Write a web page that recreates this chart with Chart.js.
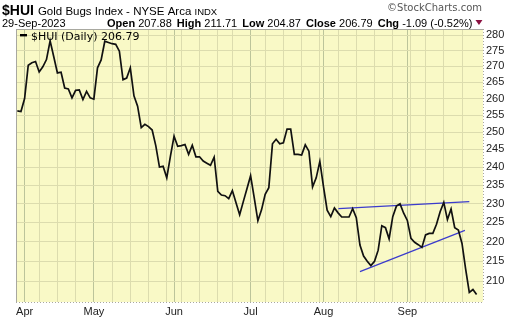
<!DOCTYPE html>
<html>
<head>
<meta charset="utf-8">
<script src="https://cdn.jsdelivr.net/npm/chart.js@4"></script>
<style>
  html, body { margin: 0; padding: 0; background: #fff; }
  canvas { display: block; }
</style>
</head>
<body>
<canvas id="huiChart" width="520" height="318"></canvas>
<script>
// trading days shown (2023, MM-DD)
const dates = [
  '03-30','03-31',
  '04-03','04-04','04-05','04-06','04-10','04-11','04-12','04-13','04-14','04-17','04-18','04-19','04-20','04-21','04-24','04-25','04-26','04-27','04-28',
  '05-01','05-02','05-03','05-04','05-05','05-08','05-09','05-10','05-11','05-12','05-15','05-16','05-17','05-18','05-19','05-22','05-23','05-24','05-25','05-26','05-30','05-31',
  '06-01','06-02','06-05','06-06','06-07','06-08','06-09','06-12','06-13','06-14','06-15','06-16','06-20','06-21','06-22','06-23','06-26','06-27','06-28','06-29','06-30',
  '07-03','07-05','07-06','07-07','07-10','07-11','07-12','07-13','07-14','07-17','07-18','07-19','07-20','07-21','07-24','07-25','07-26','07-27','07-28','07-31',
  '08-01','08-02','08-03','08-04','08-07','08-08','08-09','08-10','08-11','08-14','08-15','08-16','08-17','08-18','08-21','08-22','08-23','08-24','08-25','08-28','08-29','08-30','08-31',
  '09-01','09-05','09-06','09-07','09-08','09-11','09-12','09-13','09-14','09-15','09-18','09-19','09-20','09-21','09-22','09-25','09-26','09-27','09-28','09-29'
];

// daily closes of $HUI
const closes = [
  256.3, 256.1,
  260.0, 270.3, 271.1, 271.5, 268.2, 269.8, 272.1, 278.1, 273.0, 267.9, 268.1, 263.2, 262.9, 260.2, 262.5, 262.6, 259.7, 262.2, 260.2,
  259.8, 269.5, 272.0, 278.0, 277.6, 277.2, 277.0, 274.8, 265.8, 266.3, 269.5, 260.8, 257.7, 251.3, 252.3, 251.6, 250.6, 246.0, 240.0, 240.2, 237.0, 243.0,
  248.8, 245.9, 246.1, 246.4, 243.6, 246.2, 242.9, 242.9, 241.7, 241.1, 240.5, 242.8, 233.3, 232.3, 232.1, 231.3, 233.5, 230.2, 227.0, 230.5, 234.0,
  237.6, 231.5, 225.4, 228.3, 232.5, 234.3, 246.6, 247.9, 246.6, 246.9, 250.9, 250.9, 243.6, 243.6, 243.4, 246.3, 244.5, 234.5, 237.0, 241.6,
  234.6, 228.2, 226.5, 228.8, 227.5, 226.4, 226.4, 226.4, 228.6, 226.2, 219.1, 216.3, 215.0, 213.9, 215.0, 217.8, 224.1, 223.6, 220.7, 226.5, 229.3, 229.9, 227.4,
  225.5, 220.8, 219.8, 219.2, 218.5, 221.7, 222.1, 222.1, 224.5, 227.8, 230.3, 225.7, 228.5, 223.6, 223.0, 219.5, 213.0, 207.3, 208.0, 206.79
];

// drawn trendlines (day index, value)
const upperTrendX = [88.1, 124.0];
const upperTrendY = [228.6, 230.5];
const lowerTrendX = [94.0, 122.8];
const lowerTrendY = [212.4, 222.9];

const monthLabels = ['Apr', 'May', 'Jun', 'Jul', 'Aug', 'Sep'];
const yTicks = [210, 215, 220, 225, 230, 235, 240, 245, 250, 255, 260, 265, 270, 275, 280];

const dayOf = s => new Date(2023, +s.slice(0, 2) - 1, +s.slice(3, 5));

// month starts get a label, week starts get a grid line
const monthStart = {};
const gridIdx = [];
let m = 0;
for (let i = 1; i < dates.length; i++) {
  const isMonth = dates[i].slice(0, 2) !== dates[i - 1].slice(0, 2);
  const isWeek = dayOf(dates[i]).getDay() < dayOf(dates[i - 1]).getDay();
  if (isMonth) monthStart[i] = monthLabels[m++];
  if (isMonth || isWeek) gridIdx.push(i);
}

const FONT = '"Liberation Sans", Arial, sans-serif';

const paper = {
  id: 'paper',
  beforeDraw(chart) {
    const { ctx, chartArea: a } = chart;
    ctx.save();
    ctx.fillStyle = '#ffffff';
    ctx.fillRect(0, 0, chart.width, chart.height);
    ctx.fillStyle = '#f9f9c6';
    ctx.fillRect(a.left, a.top, a.right - a.left, a.bottom - a.top);
    ctx.restore();
  },
  afterDraw(chart) {
    const { ctx, chartArea: a } = chart;
    ctx.save();

    // frame
    ctx.strokeStyle = '#a8a8a0';
    ctx.lineWidth = 1;
    ctx.beginPath();
    ctx.moveTo(a.left + 0.5, a.top);
    ctx.lineTo(a.left + 0.5, a.bottom);
    ctx.moveTo(a.left, a.top + 0.5);
    ctx.lineTo(a.right, a.top + 0.5);
    ctx.stroke();
    ctx.setLineDash([1, 2]);
    ctx.beginPath();
    ctx.moveTo(a.left, a.bottom + 0.5);
    ctx.lineTo(a.right, a.bottom + 0.5);
    ctx.moveTo(a.right + 0.5, a.top);
    ctx.lineTo(a.right + 0.5, a.bottom);
    ctx.stroke();
    ctx.setLineDash([]);

    // title row
    ctx.fillStyle = '#000';
    ctx.textBaseline = 'alphabetic';
    ctx.font = 'bold 14px ' + FONT;
    ctx.fillText('$HUI', 2, 15);
    let x = 2 + ctx.measureText('$HUI').width + 4;
    ctx.font = '11.5px ' + FONT;
    ctx.fillText('Gold Bugs Index - NYSE Arca', x, 15);
    x += ctx.measureText('Gold Bugs Index - NYSE Arca ').width;
    ctx.font = '9.5px ' + FONT;
    ctx.fillText('INDX', x, 15);

    ctx.fillStyle = '#555';
    ctx.font = '10px "DejaVu Sans", Verdana, sans-serif';
    ctx.textAlign = 'right';
    ctx.fillText('\u00A9StockCharts.com', 482, 11);
    ctx.textAlign = 'left';

    // quote row
    ctx.fillStyle = '#000';
    ctx.font = '11px ' + FONT;
    ctx.fillText('29-Sep-2023', 2, 27);
    const parts = [
      ['Open', true], [' 207.88 ', false], ['High', true], [' 211.71 ', false],
      ['Low', true], [' 204.87 ', false], ['Close', true], [' 206.79 ', false],
      ['Chg', true], [' -1.09 (-0.52%)', false]
    ];
    x = 107;
    parts.forEach(([t, b], k) => {
      ctx.font = (b ? 'bold ' : '') + '11px ' + FONT;
      ctx.fillText(t, x, 27);
      x += ctx.measureText(t).width + (!b && k < parts.length - 1 ? 2 : 0);
    });
    ctx.fillStyle = '#8a1040';
    ctx.beginPath();
    ctx.moveTo(x + 3, 20);
    ctx.lineTo(x + 10, 20);
    ctx.lineTo(x + 6.5, 25);
    ctx.closePath();
    ctx.fill();

    // legend
    ctx.fillStyle = '#000';
    ctx.fillRect(20, 34, 7, 2.4);
    ctx.font = '11px "DejaVu Sans", Verdana, sans-serif';
    ctx.fillText('$HUI (Daily) 206.79', 31, 39.5);

    ctx.restore();
  }
};

const ctx = document.getElementById('huiChart').getContext('2d');
const huiChart = new Chart(ctx, {
  type: 'line',
  data: {
    datasets: [{
      label: '$HUI',
      data: closes.map((v, i) => ({ x: i, y: v })),
      borderColor: '#111111',
      borderWidth: 1.7,
      pointRadius: 0,
      tension: 0
    }, {
      label: 'upper',
      data: upperTrendX.map((v, i) => ({ x: v, y: upperTrendY[i] })),
      borderColor: '#3b3bcc',
      borderWidth: 1.2,
      pointRadius: 0
    }, {
      label: 'lower',
      data: lowerTrendX.map((v, i) => ({ x: v, y: lowerTrendY[i] })),
      borderColor: '#3b3bcc',
      borderWidth: 1.2,
      pointRadius: 0
    }]
  },
  options: {
    responsive: false,
    animation: false,
    devicePixelRatio: 1,
    layout: { padding: { top: 29, left: 16, right: 0, bottom: 0 } },
    plugins: { legend: { display: false }, tooltip: { enabled: false } },
    scales: {
      x: {
        type: 'linear',
        min: -0.36,
        max: 127.76,
        afterBuildTicks: s => { s.ticks = gridIdx.map(v => ({ value: v })); },
        afterFit: s => { s.height = 16; },
        border: { display: false },
        grid: {
          drawTicks: false,
          color: c => (c.tick && monthStart[c.tick.value]) ? '#bcc49a' : '#dcdcae'
        },
        ticks: {
          autoSkip: false,
          maxRotation: 0,
          padding: 3,
          color: '#222',
          font: { family: FONT, size: 11 },
          callback: v => monthStart[v] || ''
        }
      },
      y: {
        type: 'logarithmic',
        position: 'right',
        min: 205,
        max: 282,
        afterBuildTicks: s => { s.ticks = yTicks.map(v => ({ value: v })); },
        afterFit: s => { s.width = 37; },
        border: { display: false },
        grid: { drawTicks: false, color: '#dcdcae' },
        ticks: {
          padding: 3,
          color: '#222',
          font: { family: FONT, size: 11 },
          callback: v => String(v)
        }
      }
    }
  },
  plugins: [paper]
});
</script>
</body>
</html>
